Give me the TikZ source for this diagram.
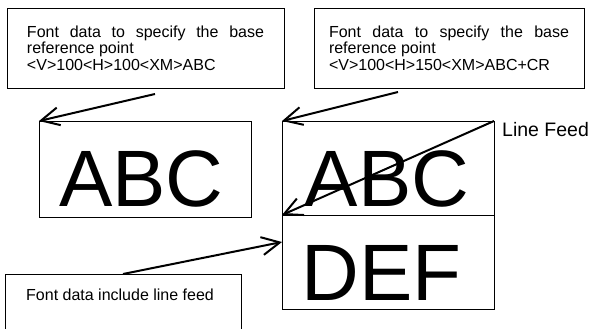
\documentclass[tikz,border=0pt]{standalone}
\usepackage{fontspec}
\setmainfont{Liberation Sans}
\usetikzlibrary{arrows.meta}
\hyphenpenalty=10000
\exhyphenpenalty=10000
\begin{document}
\begin{tikzpicture}[x=1pt,y=-1pt,
  box/.style={draw,line width=0.9pt,inner sep=0pt,outer sep=0pt},
  note/.style={box,font=\fontsize{16}{16.5}\selectfont,align=justify,minimum height=80pt},
  big/.style={font=\fontsize{80}{90}\selectfont,inner sep=0pt,anchor=base},
  arr/.style={line width=2pt,-{Straight Barb[length=18pt,width=18pt,line width=2pt]}}
]
\useasboundingbox (0,0) rectangle (598,329);
\clip (0,0) rectangle (598,329);
\node[note,text width=237pt,inner xsep=20pt] (n1) at (145.5,48) {Font data to specify the base reference point\\<V>100<H>100<XM>ABC};
\node[note,text width=240pt,inner xsep=15pt] (n2) at (449,48) {Font data to specify the base reference point\\<V>100<H>150<XM>ABC+CR};
\node[box,minimum width=212pt,minimum height=96pt] (abc1) at (145,169) {};
\node[box,minimum width=212pt,minimum height=94pt] (abc2) at (388,168) {};
\node[box,minimum width=212pt,minimum height=94pt] (def) at (388,262) {};
\node[big] (t1) at (141.5,207) {ABC};
\node[big] (t2) at (387,207) {ABC};
\node[big] (t3) at (381.7,300) {DEF};
\node[box,minimum width=236pt,minimum height=80pt] (n3) at (123,314) {};
\node[font=\fontsize{16}{19}\selectfont,anchor=base west,inner sep=0pt] (lbl3) at (26,300) {Font data include line feed};
\node[font=\fontsize{19.5}{23}\selectfont,anchor=base west,inner sep=0pt] (lf) at (502,136) {Line Feed};
\draw[arr] ([xshift=9.5pt,yshift=-6pt]n1.south) -- (abc1.north west);
\draw[arr] ([xshift=-51pt,yshift=-4pt]n2.south) -- (abc2.north west);
\draw[arr] (abc2.north east) -- (abc2.south west);
\draw[arr] (n3.north) -- ([yshift=-27pt]def.north west);
\end{tikzpicture}
\end{document}
